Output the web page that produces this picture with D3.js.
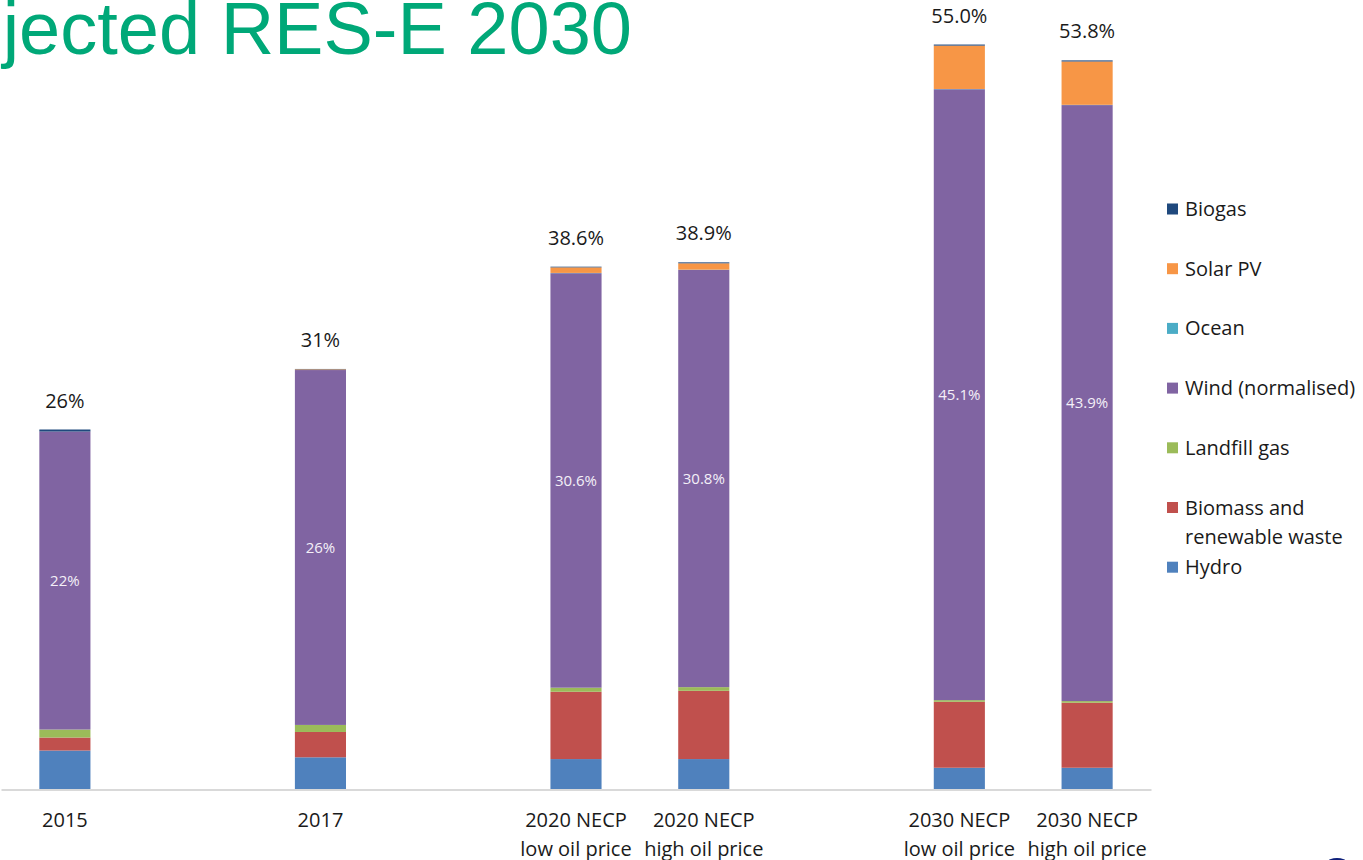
<!DOCTYPE html>
<html>
<head>
<meta charset="utf-8">
<script src="https://cdn.jsdelivr.net/npm/d3@7"></script>
<style>
  body { margin: 0; background: #fff; }
  svg { display: block; }
</style>
</head>
<body>
<svg id="chart" width="1363" height="860"></svg>
<script>
// categories, in groups (gaps between groups)
var groups = [
  ["2015"],
  ["2017"],
  ["2020 NECP|low oil price", "2020 NECP|high oil price"],
  ["2030 NECP|low oil price", "2030 NECP|high oil price"]
];

// series values, % of electricity, one per bar
var hydro    = [2.84, 2.34, 2.21, 2.21, 1.57, 1.57];
var biomass  = [0.96, 1.87, 4.97, 5.04, 4.87, 4.80];
var landfill = [0.59, 0.52, 0.30, 0.27, 0.12, 0.12];
var wind     = [22.0, 26.2, 30.6, 30.8, 45.1, 44.0];
var ocean    = [0, 0, 0.02, 0.02, 0.02, 0.02];
var solar    = [0, 0.05, 0.41, 0.47, 3.2, 3.2];
var biogas   = [0.15, 0.03, 0.05, 0.07, 0.08, 0.08];

var windLabels  = ["22%", "26%", "30.6%", "30.8%", "45.1%", "43.9%"];
var totalLabels = ["26%", "31%", "38.6%", "38.9%", "55.0%", "53.8%"];

var seriesNames = ["Hydro", "Biomass and|renewable waste", "Landfill gas", "Wind (normalised)", "Ocean", "Solar PV", "Biogas"];
var seriesKeys  = ["hydro", "biomass", "landfill", "wind", "ocean", "solar", "biogas"];
var seriesColors = ["#4f81bd", "#c0504d", "#9bbb59", "#8064a2", "#4bacc6", "#f79646", "#1f497d"];

var svg = d3.select("#chart");
var font = "'Open Sans', 'Noto Sans', sans-serif";

// build table for the stack
var categories = [];
groups.forEach(function(g){ g.forEach(function(c){ categories.push(c); }); });

var table = categories.map(function(c, i){
  return {
    cat: c,
    hydro: hydro[i], biomass: biomass[i], landfill: landfill[i],
    wind: wind[i], ocean: ocean[i], solar: solar[i], biogas: biogas[i]
  };
});

// slots with empty gaps between groups
var slots = [];
groups.forEach(function(g, gi){
  if (gi > 0) slots.push("gap" + gi);
  g.forEach(function(c){ slots.push(c); });
});

var x = d3.scaleBand()
  .domain(slots)
  .range([1, 1151])
  .paddingInner(0.6)
  .paddingOuter(0.3);

var y = d3.scaleLinear()
  .domain([0, 55])
  .range([789, 44]);

var color = d3.scaleOrdinal().domain(seriesKeys).range(seriesColors);

var stack = d3.stack().keys(seriesKeys);
var layers = stack(table);

// title (the slide shows only the right part of it)
svg.append("text")
  .attr("x", 632)
  .attr("y", 54)
  .attr("text-anchor", "end")
  .attr("font-family", "'Liberation Sans', Arial, sans-serif")
  .attr("font-size", 74)
  .attr("fill", "#00a878")
  .text("jected RES-E 2030");

// bars
svg.append("g").selectAll("g")
  .data(layers)
  .enter().append("g")
  .attr("fill", function(d){ return color(d.key); })
  .selectAll("rect")
  .data(function(d){ return d; })
  .enter().append("rect")
  .attr("x", function(d){ return x(d.data.cat); })
  .attr("width", x.bandwidth())
  .attr("y", function(d){ return y(d[1]); })
  .attr("height", function(d){ return Math.max(0, y(d[0]) - y(d[1])); });

// x axis
var xAxis = d3.axisBottom(x).tickSize(0).tickPadding(0);
var gx = svg.append("g")
  .attr("transform", "translate(0,789.5)")
  .call(xAxis);

gx.select(".domain").attr("stroke", "#d9d9d9").attr("stroke-width", 2);
gx.selectAll(".tick text").remove();
gx.selectAll(".tick").filter(function(d){ return d.indexOf("gap") === 0; }).remove();
gx.selectAll(".tick").append("text")
  .attr("text-anchor", "middle")
  .attr("font-family", font)
  .attr("font-size", 20)
  .attr("fill", "#1a1a1a")
  .each(function(d){
    var lines = d.split("|");
    var t = d3.select(this);
    lines.forEach(function(l, i){
      t.append("tspan").attr("x", 0).attr("y", 37 + i * 29).text(l);
    });
  });

// wind labels in the middle of the wind segment
var windLayer = layers[seriesKeys.indexOf("wind")];
svg.append("g").selectAll("text")
  .data(windLayer)
  .enter().append("text")
  .attr("x", function(d){ return x(d.data.cat) + x.bandwidth() / 2; })
  .attr("y", function(d){ return (y(d[0]) + y(d[1])) / 2; })
  .attr("dy", "0.36em")
  .attr("text-anchor", "middle")
  .attr("font-family", font)
  .attr("font-size", 15)
  .attr("fill", "#f4f0f8")
  .text(function(d, i){ return windLabels[i]; });

// totals above bars
var topLayer = layers[layers.length - 1];
svg.append("g").selectAll("text")
  .data(topLayer)
  .enter().append("text")
  .attr("x", function(d){ return x(d.data.cat) + x.bandwidth() / 2; })
  .attr("y", function(d){ return y(d[1]) - 22; })
  .attr("text-anchor", "middle")
  .attr("font-family", font)
  .attr("font-size", 20)
  .attr("fill", "#1a1a1a")
  .text(function(d, i){ return totalLabels[i]; });

// legend, top to bottom reversed
var legendItems = seriesKeys.map(function(k, i){ return {key: k, name: seriesNames[i]}; }).reverse();
var leg = svg.append("g").selectAll("g")
  .data(legendItems)
  .enter().append("g")
  .attr("transform", function(d, i){ return "translate(1167," + (209 + i * 59.7) + ")"; });

leg.append("rect")
  .attr("x", 0).attr("y", -5.5)
  .attr("width", 11).attr("height", 11)
  .attr("fill", function(d){ return color(d.key); });

leg.append("text")
  .attr("font-family", font)
  .attr("font-size", 20)
  .attr("fill", "#1a1a1a")
  .each(function(d){
    var t = d3.select(this);
    d.name.split("|").forEach(function(l, i){
      t.append("tspan").attr("x", 18).attr("y", 7 + i * 29).text(l);
    });
  });

// corner of the slide logo
svg.append("circle")
  .attr("cx", 1337).attr("cy", 876).attr("r", 18)
  .attr("fill", "#0d1f7a");
</script>
</body>
</html>
